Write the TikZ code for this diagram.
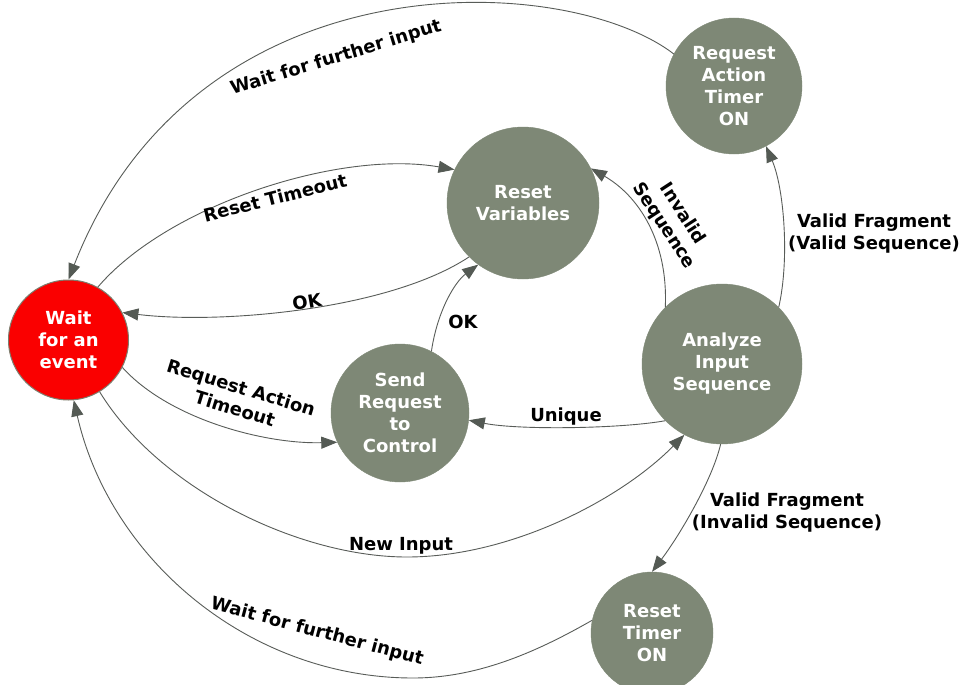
\documentclass[tikz,border=0pt]{standalone}
\usepackage{fontspec}
\setmainfont{DejaVu Sans}
\usetikzlibrary{arrows.meta}
\definecolor{nodegreen}{RGB}{126,136,118}
\definecolor{edgegray}{RGB}{88,92,88}
\definecolor{tipgray}{RGB}{84,90,84}
\definecolor{redstate}{RGB}{250,0,0}
\definecolor{redborder}{RGB}{125,125,110}
\tikzset{
 state/.style={circle, fill=nodegreen, draw=nodegreen, inner sep=0pt, text=white,
   font=\bfseries\fontsize{18}{22}\selectfont, align=center},
 trans/.style={draw=edgegray, line width=0.9pt, -{Triangle[length=16pt,width=12pt,color=tipgray]}},
 lbl/.style={font=\bfseries\fontsize{18}{22}\selectfont, align=center, inner sep=0pt}
}
\begin{document}
\begin{tikzpicture}[x=1pt,y=-1pt]
\clip (0,0) rectangle (966,685);
\fill[white] (0,0) rectangle (966,685);

% states
\node[state, fill=redstate, draw=redborder, line width=1pt, minimum size=120pt] (wait) at (68.5,340) {Wait\\for an\\event};
\node[state, minimum size=152pt] (resetvar) at (523,203) {Reset\\Variables};
\node[state, minimum size=136pt] (timer) at (734,86) {Request\\Action\\Timer\\ON};
\node[state, minimum size=138pt] (send) at (400,413) {Send\\Request\\to\\Control};
\node[state, minimum size=160pt] (analyze) at (722,364) {Analyze\\Input\\Sequence};
\node[state, minimum size=122pt] (resettimer) at (652,633) {Reset\\Timer\\ON};

% transitions
\draw[trans] (timer.152) .. controls +(-108,-83) and +(127,-325) .. (wait.north);
\draw[trans] (wait.61) .. controls +(70,-82) and +(-115,-20) .. (resetvar.154);
\draw[trans] (resetvar.225) .. controls +(-80,53) and +(98,12) .. (wait.27);
\draw[trans] (send.63) .. controls +(6,-41) and +(-23,17) .. (resetvar.234);
\draw[trans] (wait.-27) .. controls +(47,52) and +(-72,2) .. (send.205);
\draw[trans] (analyze.225) .. controls +(-44,8) and +(50,10) .. (send.-6);
\draw[trans] (wait.-59) .. controls (160,490) and (300,557) .. (407,557)
   .. controls (510,557) and (620,500) .. (analyze.242);
\draw[trans] (resettimer.168) .. controls (540,650) and (480,678) .. (413,678)
   .. controls (250,678) and (110,560) .. (wait.-85);
\draw[trans] (analyze.135) .. controls +(3,-67) and +(47,27) .. (resetvar.27);
\draw[trans] (analyze.45) .. controls +(11,-48) and +(18,42) .. (timer.-62);
\draw[trans] (analyze.-91) .. controls +(-8,35) and +(28,-37) .. (resettimer.north);

% labels
\node[lbl, rotate=17] (l1) at (336,58) {Wait for further input};
\node[lbl, rotate=14] (l2) at (275,198) {Reset Timeout};
\node[lbl, rotate=10] (l3) at (307,302) {OK};
\node[lbl] (l4) at (463,322) {OK};
\node[lbl, rotate=-17] (l5) at (238,398) {Request Action\\Timeout};
\node[lbl] (l6) at (566,417) {Unique};
\node[lbl] (l7) at (401,546) {New Input};
\node[lbl, rotate=-15] (l8) at (317,632) {Wait for further input};
\node[lbl, rotate=-57] (l9) at (673,220) {Invalid\\Sequence};
\node[lbl] (l10) at (874,234) {Valid Fragment\\(Valid Sequence)};
\node[lbl] (l11) at (787,513) {Valid Fragment\\(Invalid Sequence)};
\end{tikzpicture}
\end{document}
